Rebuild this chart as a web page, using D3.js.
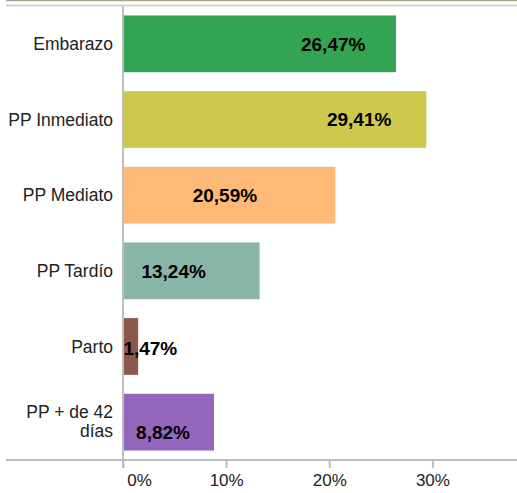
<!DOCTYPE html>
<html><head><meta charset="utf-8">
<script src="https://cdn.jsdelivr.net/npm/d3@7"></script>
<style>body{margin:0;background:#fff}svg{display:block}</style>
</head><body>
<script>
const categories = ["Embarazo", "PP Inmediato", "PP Mediato", "PP Tardío", "Parto", "PP + de 42 días"];
const values = [26.47, 29.41, 20.59, 13.24, 1.47, 8.82];
const labelAt = [20.38, 22.9, 9.88, 4.91, 2.65, 3.88];
const colors = ["#32a453", "#cec94c", "#feb977", "#88b5a8", "#8c584b", "#9467bd"];
const tickValues = [0, 10, 20, 30];
const tickLabels = ["0%", "10%", "20%", "30%"];

const W = 517, H = 493;
const svg = d3.select("body").append("svg").attr("width", W).attr("height", H);
const x = d3.scaleLinear().domain([0, 38.2]).range([123, 517]);
const y = d3.scaleBand().domain(categories).range([6, 460]).paddingInner(0.25).paddingOuter(0.125);
const font = "'Liberation Sans', Arial, sans-serif";

// top lines
svg.append("line").attr("x1", 6).attr("x2", W).attr("y1", 0.5).attr("y2", 0.5).attr("stroke", "#aca592").attr("stroke-width", 1.5);
svg.append("line").attr("x1", 6).attr("x2", W).attr("y1", 5.5).attr("y2", 5.5).attr("stroke", "#c8c8c8").attr("stroke-width", 1.5);

// bars
svg.selectAll("rect.bar").data(values).join("rect")
  .attr("x", x(0)).attr("y", (d, i) => y(categories[i]))
  .attr("width", d => x(d) - x(0)).attr("height", y.bandwidth())
  .attr("fill", (d, i) => colors[i]);

// vertical axis line
svg.append("line").attr("x1", x(0)).attr("x2", x(0)).attr("y1", 6).attr("y2", 468).attr("stroke", "#bdbdbd").attr("stroke-width", 2);

// bottom axis
const xAxis = d3.axisBottom(x).tickValues(tickValues).tickFormat((d, i) => tickLabels[i]).tickSize(8).tickSizeOuter(0);
const gx = svg.append("g").attr("transform", "translate(0,460)").call(xAxis);
gx.select(".domain").remove();
gx.selectAll(".tick line").attr("stroke", "#bdbdbd").attr("stroke-width", 2);
gx.selectAll(".tick text").attr("font-family", font).attr("font-size", 17).attr("fill", "#222").attr("y", 14)
  .attr("dx", (d, i) => i === 0 ? 16 : 0);
svg.append("line").attr("x1", 6).attr("x2", W).attr("y1", 460).attr("y2", 460).attr("stroke", "#bdbdbd").attr("stroke-width", 2);

// category labels
categories.forEach((c, i) => {
  const t = svg.append("text").attr("font-family", font).attr("font-size", 17.5).attr("fill", "#222")
    .attr("text-anchor", "end").attr("x", x(0) - 10);
  const cy = y(c) + y.bandwidth() / 2;
  if (c === "PP + de 42 días") {
    t.append("tspan").attr("x", x(0) - 10).attr("y", cy - 4).text("PP + de 42");
    t.append("tspan").attr("x", x(0) - 10).attr("y", cy + 15).text("días");
  } else {
    t.attr("y", cy).attr("dy", "0.35em").text(c);
  }
});

// value labels
svg.selectAll("text.val").data(values).join("text")
  .attr("class", "val").attr("font-family", font).attr("font-weight", "bold").attr("font-size", 19)
  .attr("fill", "#000").attr("text-anchor", "middle")
  .attr("x", (d, i) => x(labelAt[i])).attr("y", (d, i) => y(categories[i]) + y.bandwidth() / 2 + (i === 5 ? 10 : i === 4 ? 2 : 0))
  .attr("dy", "0.36em")
  .text(d => d.toFixed(2).replace(".", ",") + "%");
</script>
</body></html>
